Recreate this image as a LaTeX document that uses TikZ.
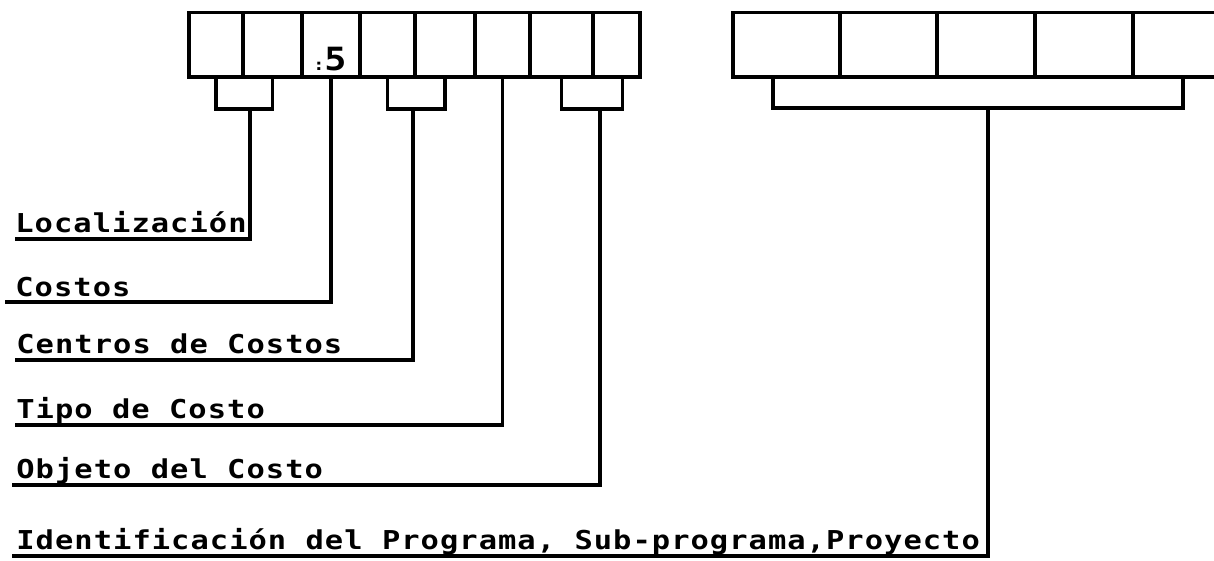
\documentclass[tikz,border=0pt]{standalone}
\usepackage{fontspec}
% wide plotter-like lettering for the field labels
\newfontfamily\plotfont[FakeStretch=1.17,LetterSpace=4]{DejaVu Sans Mono}
\newfontfamily\digitfont[FakeStretch=1.15]{DejaVu Sans Mono}
\tikzset{
  cell/.style={draw, line width=1.9pt, inner sep=0pt, minimum height=32.25pt},
  lbl/.style={anchor=base west, inner sep=0pt, font=\plotfont\bfseries\fontsize{13pt}{15pt}\selectfont},
  wire/.style={line width=1.9pt},
}
\begin{document}
\begin{tikzpicture}[x=0.5pt, y=-0.5pt]
\useasboundingbox (0,0) rectangle (1214,561);
\clip (0,0) rectangle (1214,561);

% left code field: eight digit cells
\node[cell, minimum width=27pt]   (c1) at (216,44.75)   {};
\node[cell, minimum width=29.5pt] (c2) at (272.5,44.75) {};
\node[cell, minimum width=29pt]   (c3) at (331,44.75)   {};
\node[cell, minimum width=27.5pt] (c4) at (387.5,44.75) {};
\node[cell, minimum width=30pt]   (c5) at (445,44.75)   {};
\node[cell, minimum width=27.5pt] (c6) at (502.5,44.75) {};
\node[cell, minimum width=31.5pt] (c7) at (561.5,44.75) {};
\node[cell, minimum width=23.5pt] (c8) at (616.5,44.75) {};

% right code field: five cells, the last one running off the edge
\node[cell, minimum width=53.5pt] (r1) at (786.5,44.75) {};
\node[cell, minimum width=48.5pt] (r2) at (888.5,44.75) {};
\node[cell, minimum width=49pt]   (r3) at (986,44.75)   {};
\node[cell, minimum width=49pt]   (r4) at (1084,44.75)  {};
\node[cell, minimum width=53.5pt] (r5) at (1186.5,44.75) {};

% digit printed in the third cell
\node[inner sep=0pt, font=\digitfont\bfseries\fontsize{16pt}{17pt}\selectfont] (five) at (330,59)
  {{\fontsize{8pt}{8pt}\selectfont:}5};

% field labels
\node[lbl] (loc)   at (15,233) {Localización};
\node[lbl] (cost)  at (15,296) {Costos};
\node[lbl] (cen)   at (16,353) {Centros de Costos};
\node[lbl] (tipo)  at (16,418) {Tipo de Costo};
\node[lbl] (obj)   at (16,478) {Objeto del Costo};
\node[lbl] (ident) at (16,549) {Identificación del Programa, Sub-programa,Proyecto};

% brackets grouping cells
\draw[wire] (c1.south) -- ++(0,30) -| (c2.south);
\draw[wire] (c4.south) -- ++(0,30) -| (c5.south);
\draw[wire] (c7.south) -- ++(0,30) -| ([xshift=3pt]c8.south);
\draw[wire] ([xshift=-6.75pt]r1.south) -- ++(0,29) -| ([xshift=-1.75pt]r5.south);

% stems down to the underlined labels
\coordinate (s1) at (250,108);
\coordinate (s3) at (413,108);
\coordinate (s5) at (600,108);
\coordinate (s6) at (988,107);
\draw[wire] (s1) |- ([xshift=0pt,yshift=-3pt]loc.base west);
\draw[wire] (c3.south) |- ([xshift=-5pt,yshift=-3pt]cost.base west);
\draw[wire] (s3) |- ([xshift=-0.5pt,yshift=-3.5pt]cen.base west);
\draw[wire] (c6.south) |- ([xshift=-0.5pt,yshift=-3.5pt]tipo.base west);
\draw[wire] (s5) |- ([xshift=-2pt,yshift=-3.5pt]obj.base west);
\draw[wire] (s6) |- ([xshift=-2pt,yshift=-3.5pt]ident.base west);
\end{tikzpicture}
\end{document}
